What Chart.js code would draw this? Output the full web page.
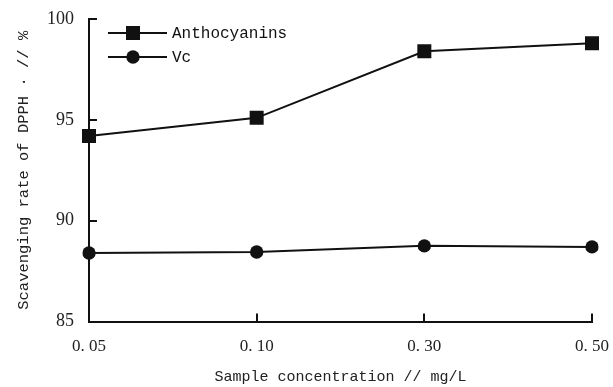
<!DOCTYPE html>
<html><head><meta charset="utf-8">
<script src="https://cdn.jsdelivr.net/npm/chart.js@4"></script>
<style>html,body{margin:0;padding:0;background:#fff}#wrap{width:613px;height:387px}</style>
</head><body><div id="wrap"><canvas id="c" width="613" height="387"></canvas></div>
<script>
const categories = ['0. 05', '0. 10', '0. 30', '0. 50'];
const anthocyanins = [94.2, 95.1, 98.4, 98.8];
const vc = [88.4, 88.45, 88.75, 88.7];
const yTicks = [85, 90, 95, 100];
const seriesNames = ['Anthocyanins', 'Vc'];
const xTitle = 'Sample concentration // mg/L';
const yTitle = 'Scavenging rate of DPPH \u00b7 // %';

const INK = '#111';
const monoFont = '"Liberation Mono", "DejaVu Sans Mono", monospace';
const serifFont = '"Liberation Serif", "DejaVu Serif", serif';

const inwardTicks = {
  id: 'inwardTicks',
  afterDraw(chart) {
    const ctx = chart.ctx, x = chart.scales.x, y = chart.scales.y, a = chart.chartArea;
    ctx.save();
    ctx.strokeStyle = INK; ctx.lineWidth = 2;
    ctx.beginPath();
    y.ticks.forEach((t, i) => {
      const py = Math.round(y.getPixelForTick(i));
      ctx.moveTo(a.left, py); ctx.lineTo(a.left + 8, py);
    });
    x.ticks.forEach((t, i) => {
      const px = Math.round(x.getPixelForTick(i));
      ctx.moveTo(px, a.bottom); ctx.lineTo(px, a.bottom - 8);
    });
    ctx.stroke();
    ctx.restore();
  }
};

const lineLegend = {
  id: 'lineLegend',
  afterDraw(chart) {
    const ctx = chart.ctx, a = chart.chartArea;
    ctx.save();
    chart.data.datasets.forEach((ds, i) => {
      const cy = a.top + 14 + i * 24;
      const x0 = a.left + 19, x1 = x0 + 59, mx = x0 + 25;
      ctx.strokeStyle = INK; ctx.lineWidth = 2;
      ctx.beginPath(); ctx.moveTo(x0, cy); ctx.lineTo(x1, cy); ctx.stroke();
      ctx.fillStyle = INK;
      if (ds.pointStyle === 'rect') {
        ctx.fillRect(mx - 7, cy - 7, 14, 14);
      } else {
        ctx.beginPath(); ctx.arc(mx, cy, 6.7, 0, Math.PI * 2); ctx.fill();
      }
      ctx.font = '16px ' + monoFont;
      ctx.textBaseline = 'middle'; ctx.textAlign = 'left';
      ctx.fillText(ds.label, x1 + 5, cy + 1);
    });
    ctx.restore();
  }
};

new Chart(document.getElementById('c'), {
  type: 'line',
  data: {
    labels: categories,
    datasets: [
      { label: seriesNames[0], data: anthocyanins, borderColor: INK, backgroundColor: INK,
        borderWidth: 2, pointStyle: 'rect', pointRadius: 9.9, pointBorderWidth: 0, tension: 0 },
      { label: seriesNames[1], data: vc, borderColor: INK, backgroundColor: INK,
        borderWidth: 2, pointStyle: 'circle', pointRadius: 6.7, pointBorderWidth: 0, tension: 0 }
    ]
  },
  options: {
    responsive: false,
    animation: false,
    layout: { padding: { top: 19, right: 21, left: 0, bottom: 0 } },
    plugins: { legend: { display: false }, tooltip: { enabled: false } },
    scales: {
      x: {
        type: 'category', offset: false,
        grid: { display: false, drawTicks: false },
        border: { display: true, color: INK, width: 2 },
        ticks: { color: '#222', font: { family: serifFont, size: 17 }, padding: 15, maxRotation: 0, autoSkip: false },
        title: { display: true, text: xTitle, color: '#222', font: { family: monoFont, size: 15 }, padding: { top: 4, bottom: 1 } },
        afterFit(s) { s.height = 65.5; s.paddingLeft = 0; s.paddingRight = 0; }
      },
      y: {
        min: 85, max: 100,
        afterBuildTicks(s) { s.ticks = yTicks.map(v => ({ value: v })); },
        grid: { display: false, drawTicks: false },
        border: { display: true, color: INK, width: 2 },
        ticks: { color: '#222', font: { family: serifFont, size: 18 }, padding: 15 },
        title: { display: true, text: yTitle, color: '#222', font: { family: monoFont, size: 15.5 }, padding: { top: 15, bottom: 0 } },
        afterFit(s) { s.width = 89; s.paddingTop = 0; s.paddingBottom = 0; }
      }
    }
  },
  plugins: [inwardTicks, lineLegend]
});
</script>
</body></html>
